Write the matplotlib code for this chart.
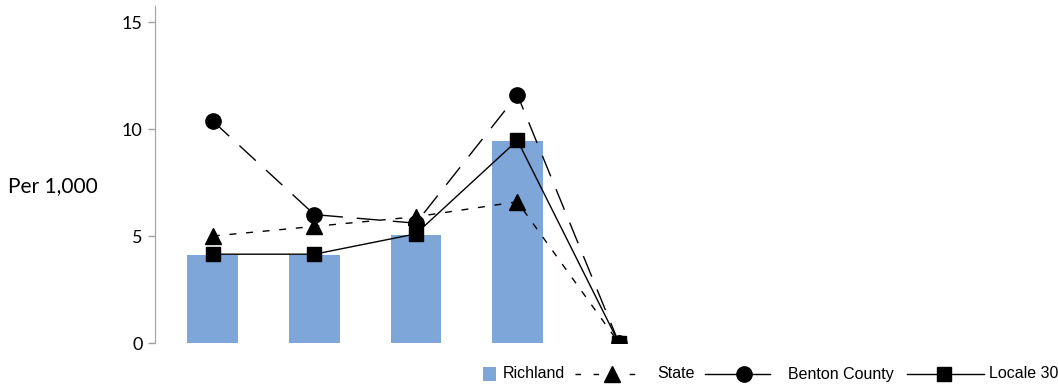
import matplotlib
matplotlib.use("Agg")
import matplotlib.pyplot as plt
from matplotlib.lines import Line2D
from matplotlib.patches import Rectangle

categories = ["1", "2", "3", "4", "5"]
richland = [4.1, 4.1, 5.05, 9.45, 0.0]
state = [5.0, 5.45, 5.9, 6.6, 0.0]
benton = [10.37, 6.0, 5.6, 11.6, 0.0]
locale30 = [4.15, 4.15, 5.1, 9.47, 0.0]
yticks = [0, 5, 10, 15]
legend_labels = ["Richland", "State", "Benton County", "Locale 30"]

W, H = 1058, 386
fig = plt.figure(figsize=(W / 100, H / 100), dpi=100)
ax = fig.add_axes([155 / W, 1 - 343 / H, (1050 - 155) / W, (343 - 6) / H])

x = list(range(len(categories)))
bar_color = "#7EA6D8"
ax.bar(x, richland, width=0.5, color=bar_color, zorder=1)

ax.plot(x, benton, color="black", lw=1.0, linestyle=(0, (16, 10)),
        marker="o", markersize=11, zorder=3)
ax.plot(x, state, color="black", lw=1.0, linestyle=(0, (5, 7)),
        marker="^", markersize=11, zorder=4)
ax.plot(x, locale30, color="black", lw=1.0, linestyle="-",
        marker="s", markersize=10, zorder=5)

ax.set_xlim(-0.57, (1050 - 213) / 101.5)
ax.set_ylim(0, 15.75)
ax.set_yticks(yticks)
ax.set_xticks([])
for s in ["top", "right", "bottom"]:
    ax.spines[s].set_visible(False)
ax.spines["left"].set_color("#A0A0A0")
ax.tick_params(axis="y", colors="#A0A0A0", length=5, width=1, labelcolor="black",
               labelsize=13, pad=4)
for lab in ax.get_yticklabels():
    lab.set_family("Lato")

fig.text(8 / W, 1 - 186 / H, "Per 1,000", fontsize=15, family="Lato",
         va="center", ha="left")

# manual legend in figure pixel coordinates
def fx(px):
    return px / W

def fy(py):
    return 1 - py / H

ly = 374
lp = dict(fontsize=11.5, family="Liberation Sans", va="center", ha="left")
fig.patches.append(Rectangle((fx(483), fy(ly + 7)), 13 / W, 14 / H, transform=fig.transFigure,
                             facecolor=bar_color, edgecolor="none"))
fig.text(fx(503), fy(ly), legend_labels[0], **lp)

fig.lines.append(Line2D([fx(575), fx(646)], [fy(ly), fy(ly)], transform=fig.transFigure,
                        color="black", lw=1.0, linestyle=(0, (4, 9))))
fig.lines.append(Line2D([fx(612)], [fy(ly)], transform=fig.transFigure,
                        color="black", marker="^", markersize=11, linestyle="none"))
fig.text(fx(657), fy(ly), legend_labels[1], **lp)

fig.lines.append(Line2D([fx(705), fx(770)], [fy(ly), fy(ly)], transform=fig.transFigure,
                        color="black", lw=1.0))
fig.lines.append(Line2D([fx(744)], [fy(ly)], transform=fig.transFigure,
                        color="black", marker="o", markersize=11, linestyle="none"))
fig.text(fx(788), fy(ly), legend_labels[2], **lp)

fig.lines.append(Line2D([fx(907), fx(984)], [fy(ly), fy(ly)], transform=fig.transFigure,
                        color="black", lw=1.0))
fig.lines.append(Line2D([fx(944)], [fy(ly)], transform=fig.transFigure,
                        color="black", marker="s", markersize=10, linestyle="none"))
fig.text(fx(989), fy(ly), legend_labels[3], **lp)

fig.savefig("out.png", dpi=100)
